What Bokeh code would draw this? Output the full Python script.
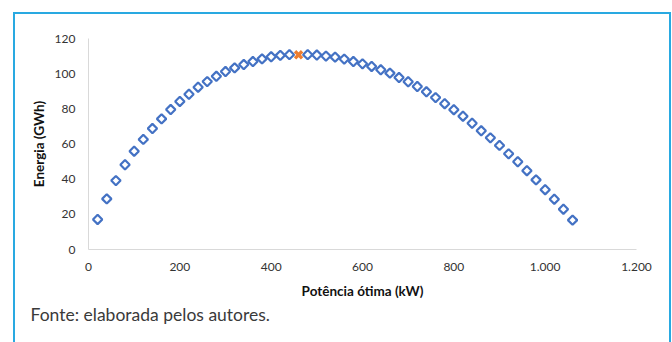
from bokeh.plotting import figure
from bokeh.models import Range1d, FixedTicker, Title, ColumnDataSource
from bokeh.embed import file_html
from bokeh.resources import INLINE

# Data
potencia = [20, 40, 60, 80, 100, 120, 140, 160, 180, 200, 220, 240, 260, 280, 300,
            320, 340, 360, 380, 400, 420, 440, 480, 500, 520, 540, 560, 580, 600,
            620, 640, 660, 680, 700, 720, 740, 760, 780, 800, 820, 840, 860, 880,
            900, 920, 940, 960, 980, 1000, 1020, 1040, 1060]
energia = [17.1, 28.8, 39.2, 48.2, 55.9, 62.6, 68.8, 74.3, 79.6, 84.2, 88.3, 92.3, 95.5,
           98.5, 101.2, 103.3, 105.2, 106.9, 108.4, 109.6, 110.4, 110.8, 110.8, 110.6,
           110.0, 109.4, 108.3, 106.9, 105.6, 104.1, 102.2, 100.3, 97.8, 95.4, 92.7,
           89.7, 86.4, 82.9, 79.5, 75.8, 71.8, 67.5, 63.5, 59.2, 54.4, 49.9, 44.8,
           39.6, 34.0, 28.6, 22.9, 16.7]
otimo_x = [460]
otimo_y = [110.7]

x_ticks = [0, 200, 400, 600, 800, 1000, 1200]
x_tick_labels = ["0", "200", "400", "600", "800", "1.000", "1.200"]
y_ticks = [0, 20, 40, 60, 80, 100, 120]

BORDER = "#29A9E1"

p = figure(output_backend="svg", toolbar_location=None,
           x_range=Range1d(0, 1200), y_range=Range1d(0, 120),
           frame_width=548, frame_height=211,
           min_border_left=88, min_border_right=36,
           min_border_top=38, min_border_bottom=93)

p.background_fill_color = "white"
p.border_fill_color = None
p.outline_line_color = None
p.xgrid.grid_line_color = None
p.ygrid.grid_line_color = None

# decorative frame around the whole figure (left, top, right edges)
p.styles = {
    "background-image": f"linear-gradient({BORDER},{BORDER}), linear-gradient({BORDER},{BORDER}), linear-gradient({BORDER},{BORDER})",
    "background-size": "2px 400px, 658px 2px, 2px 400px",
    "background-position": "13px 12px, 13px 12px, 669px 12px",
    "background-repeat": "no-repeat",
    "background-color": "white",
}

src = ColumnDataSource(dict(x=potencia, y=energia))
p.scatter("x", "y", source=src, marker="square", angle=0.785398, size=6.6,
          fill_color="white", fill_alpha=0, line_color="#4472C4", line_width=2.2)
p.scatter(otimo_x, otimo_y, marker="x", size=10, line_color="#ED7D31", line_width=3.4)

for ax in (p.xaxis[0], p.yaxis[0]):
    ax.axis_line_color = "#D9D9D9"
    ax.axis_line_width = 1
    ax.major_tick_line_color = None
    ax.minor_tick_line_color = None
    ax.major_label_text_font = "Lato"
    ax.major_label_text_font_size = "12px"
    ax.major_label_text_color = "#333333"
    ax.axis_label_text_font = "Lato"
    ax.axis_label_text_font_size = "13.5px"
    ax.axis_label_text_font_style = "bold"
    ax.axis_label_text_color = "#111111"

p.xaxis.ticker = FixedTicker(ticks=x_ticks)
p.xaxis.major_label_overrides = {t: l for t, l in zip(x_ticks, x_tick_labels)}
p.yaxis.ticker = FixedTicker(ticks=y_ticks)
p.xaxis.major_label_standoff = 7
p.yaxis.major_label_standoff = 7
p.xaxis.axis_label = "Potência ótima (kW)"
p.yaxis.axis_label = "Energia (GWh)"
p.xaxis.axis_label_standoff = 9
p.yaxis.axis_label_standoff = 5

cap = Title(text="Fonte: elaborada pelos autores.", align="left", offset=-58,
            text_font="Lato", text_font_size="17.5px", text_font_style="normal",
            text_color="#3a3a3a", standoff=0)
p.add_layout(cap, "below")

open("out.html", "w").write(file_html(p, INLINE))
